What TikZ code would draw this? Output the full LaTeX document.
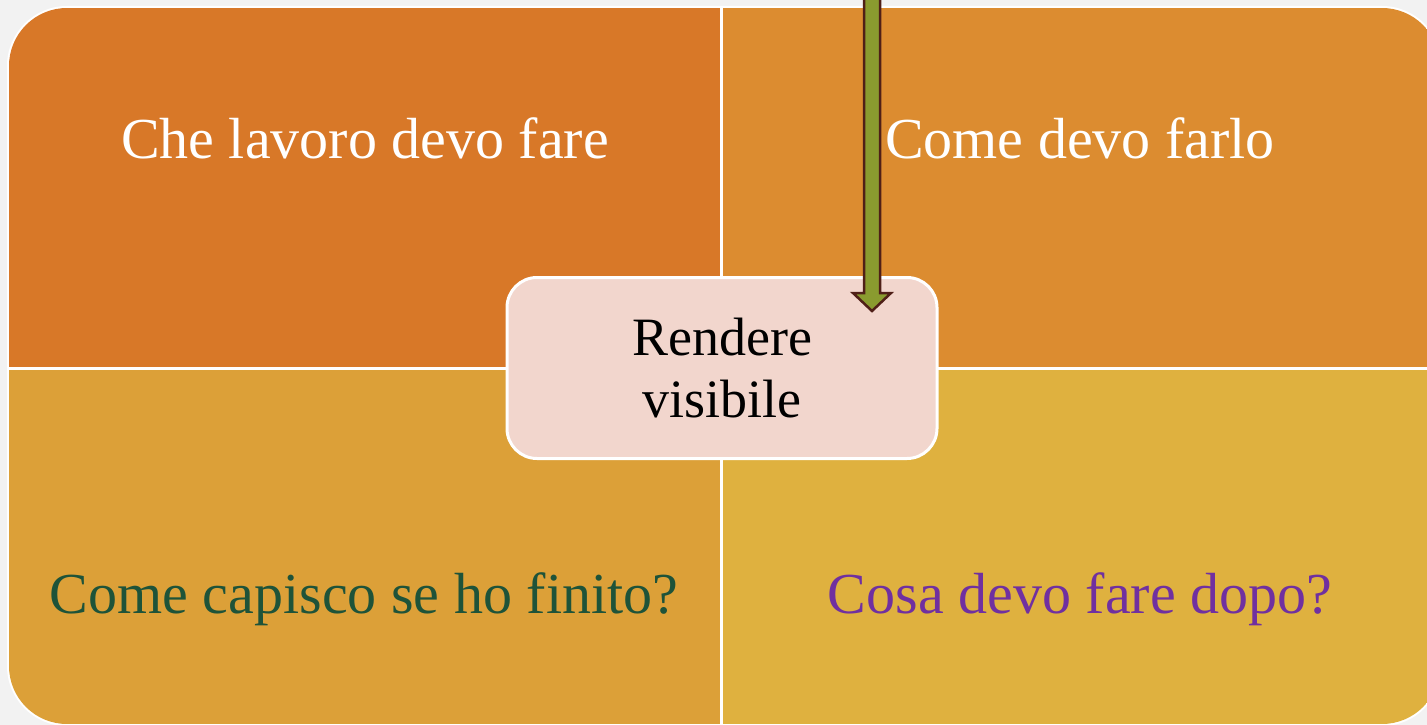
\documentclass[tikz,border=0pt]{standalone}
\usepackage{fontspec}
\setmainfont{Liberation Serif}
\usetikzlibrary{calc}

\definecolor{bggray}{HTML}{F2F2F2}
\definecolor{quadone}{HTML}{D87828}
\definecolor{quadtwo}{HTML}{DC8C30}
\definecolor{quadthree}{HTML}{DCA038}
\definecolor{quadfour}{HTML}{DFB13F}
\definecolor{boxpink}{HTML}{F2D6CD}
\definecolor{arrowgreen}{HTML}{8A9B2F}
\definecolor{arrowbrown}{HTML}{4F1F17}
\definecolor{textgreen}{HTML}{1E5339}
\definecolor{textpurple}{HTML}{7030A0}

\tikzset{
  quadtext/.style={anchor=base, font=\fontsize{58}{64}\selectfont},
  centerbox/.style={draw=white, line width=3pt, fill=boxpink, rounded corners=30pt,
    minimum width=430pt, minimum height=181pt, align=center,
    font=\fontsize{54}{62}\selectfont}
}

\begin{document}
\begin{tikzpicture}[x=1pt,y=-1pt]

\useasboundingbox (0,0) rectangle (1427,725);
\fill[bggray] (0,0) rectangle (1427,725);

\begin{scope}
\clip (0,0) rectangle (1427,725);
\fill[white, rounded corners=60pt] (7,6) rectangle (1442,726);
\clip[rounded corners=58pt] (9,8) rectangle (1440,724);
\fill[quadone] (9,8) rectangle (721,368);
\fill[quadtwo] (721,8) rectangle (1440,368);
\fill[quadthree] (9,368) rectangle (721,724);
\fill[quadfour] (721,368) rectangle (1440,724);
\draw[white, line width=3pt] (721,0) -- (721,725);
\draw[white, line width=3pt] (0,368) -- (1440,368);
\end{scope}

\node(what)[quadtext, white] at (365,158) {Che lavoro devo fare};
\node(how)[quadtext, white] at (1080,158) {Come devo farlo};
\node(done)[quadtext, textgreen] at (364,613) {Come capisco se ho finito?};
\node(next)[quadtext, textpurple] at (1080,613) {Cosa devo fare dopo?};

\node(visible)[centerbox] at (722,368) {Rendere\\visibile};

\coordinate(arrtop) at (872,-4);
\coordinate(arrtip) at (872,311);

\draw[arrowbrown, fill=arrowgreen, line width=2.5pt, line join=miter]
  ($(arrtop)+(-8,0)$) -- ($(arrtip)+(-8,-18)$) -- ($(arrtip)+(-19,-18)$)
  -- (arrtip) -- ($(arrtip)+(19,-18)$) -- ($(arrtip)+(8,-18)$)
  -- ($(arrtop)+(8,0)$) -- cycle;

\end{tikzpicture}
\end{document}
